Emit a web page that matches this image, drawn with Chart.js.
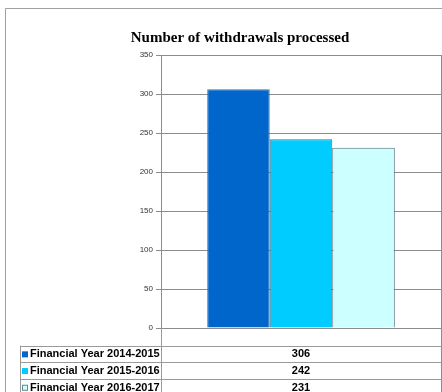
<!DOCTYPE html>
<html>
<head>
<meta charset="utf-8">
<script src="https://cdn.jsdelivr.net/npm/chart.js@4/dist/chart.umd.min.js"></script>
<style>
  html, body { margin: 0; padding: 0; background: #fff; }
  #wrap { position: relative; width: 442px; height: 392px; }
</style>
</head>
<body>
<div id="wrap"><canvas id="withdrawalsChart" width="442" height="392"></canvas></div>
<script>
// ---- data ----
const categories = [""];
const seriesNames = [
    "Financial Year 2014-2015",
    "Financial Year 2015-2016",
    "Financial Year 2016-2017",
];
const seriesValues = [306, 242, 231];
const yTicks = [0, 50, 100, 150, 200, 250, 300, 350];
const chartTitle = "Number of withdrawals processed";

// ---- colours ----
const FILLS   = ["#0066cc", "#00ccff", "#ccffff"];
const EDGE    = "#4d7280";
const GRID    = "#8c8c8c";
const FRAME   = "#a0a0a0";

// frame, title and the data table under the plot
const tablePlugin = {
    id: "dataTable",
    afterDraw(chart) {
        const ctx = chart.ctx;
        const area = chart.chartArea;
        ctx.save();

        // outer frame
        ctx.strokeStyle = FRAME;
        ctx.lineWidth = 1;
        ctx.beginPath();
        ctx.moveTo(5.5, 392);
        ctx.lineTo(5.5, 8.5);
        ctx.lineTo(442, 8.5);
        ctx.stroke();

        // title
        ctx.fillStyle = "#000";
        ctx.font = "bold 15px 'Liberation Serif', 'Times New Roman', serif";
        ctx.textAlign = "center";
        ctx.textBaseline = "middle";
        ctx.fillText(chartTitle, 240, 38);

        // right edge of plot and table
        const rx = Math.round(area.right) + 0.5;
        const lx = Math.round(area.left) + 0.5;
        ctx.strokeStyle = GRID;
        ctx.beginPath();
        ctx.moveTo(rx, area.top);
        ctx.lineTo(rx, 392);
        ctx.stroke();

        // table rows
        const top = area.bottom + 17.5;
        const rowH = 16.7;
        const tableLeft = 20.5;
        ctx.strokeStyle = "#9a9a9a";
        ctx.beginPath();
        ctx.moveTo(lx, area.bottom);
        ctx.lineTo(lx, 392);
        ctx.moveTo(tableLeft, top);
        ctx.lineTo(tableLeft, 392);
        for (let i = 0; i <= seriesNames.length; i++) {
            const y = Math.round(top + i * rowH) + 0.5;
            ctx.moveTo(tableLeft, y);
            ctx.lineTo(rx, y);
        }
        ctx.stroke();

        ctx.font = "bold 11px 'Liberation Sans', Arial, sans-serif";
        ctx.textBaseline = "middle";
        const midX = (area.left + area.right) / 2;
        seriesNames.forEach((name, i) => {
            const cy = top + i * rowH + rowH / 2 + 0.5;
            // legend key
            ctx.fillStyle = FILLS[i];
            ctx.fillRect(22, cy - 3, 6, 6);
            if (i === 2) {
                ctx.strokeStyle = "#6b8a90";
                ctx.strokeRect(22.5, cy - 2.5, 5, 5);
            }
            ctx.fillStyle = "#000";
            ctx.textAlign = "left";
            ctx.fillText(name, 30, cy);
            ctx.textAlign = "center";
            ctx.fillText(String(seriesValues[i]), midX, cy);
        });

        ctx.restore();
    },
};

new Chart(document.getElementById("withdrawalsChart"), {
    type: "bar",
    data: {
        labels: categories,
        datasets: seriesNames.map((name, i) => ({
            label: name,
            data: [seriesValues[i]],
            backgroundColor: FILLS[i],
            borderColor: EDGE,
            borderWidth: 1,
            barPercentage: 1,
            categoryPercentage: 0.67,
        })),
    },
    options: {
        responsive: false,
        animation: false,
        layout: { padding: { top: 55, bottom: 64, left: 0, right: 1 } },
        plugins: {
            legend: { display: false },
            title: { display: false },
            tooltip: { enabled: false },
        },
        scales: {
            x: { display: false },
            y: {
                min: yTicks[0],
                max: yTicks[yTicks.length - 1],
                afterBuildTicks(scale) {
                    scale.ticks = yTicks.map(v => ({ value: v }));
                },
                afterFit(scale) { scale.width = 161; },
                ticks: {
                    color: "#333",
                    padding: 3,
                    font: { family: "'Liberation Sans', Arial, sans-serif", size: 8 },
                },
                grid: { color: GRID, tickLength: 5, tickColor: GRID },
                border: { display: true, color: GRID },
            },
        },
    },
    plugins: [tablePlugin],
});
</script>
</body>
</html>
